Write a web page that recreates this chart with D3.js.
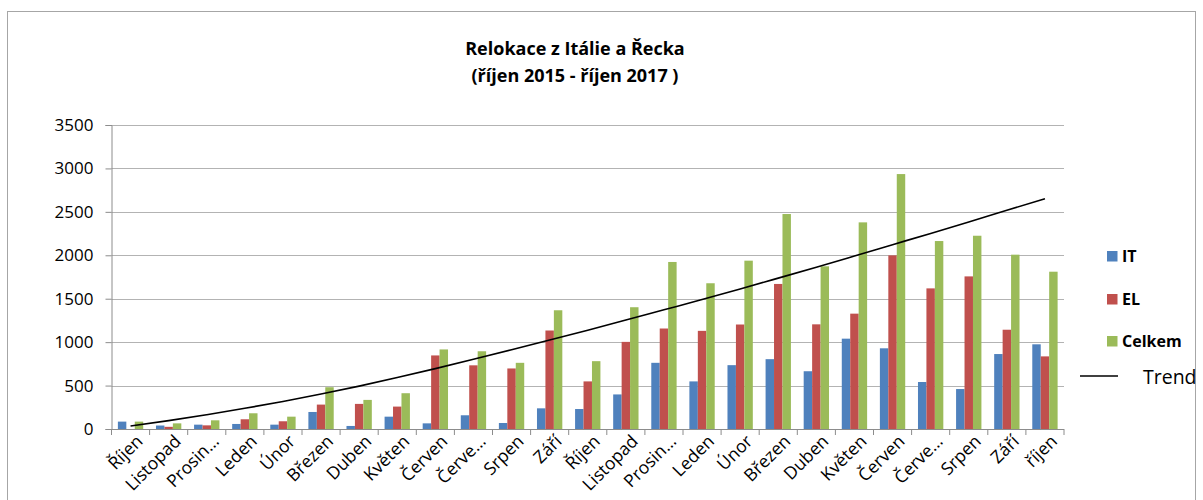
<!DOCTYPE html>
<html><head><meta charset="utf-8">
<script src="https://cdn.jsdelivr.net/npm/d3@7"></script>
<style>
html,body{margin:0;padding:0;background:#fff;}
svg{display:block;font-family:"Open Sans",sans-serif;}
</style></head>
<body>
<svg id="chart" width="1203" height="500"></svg>
<script>
const categories = ["Říjen","Listopad","Prosin…","Leden","Únor","Březen","Duben","Květen","Červen","Červe…","Srpen","Září","Říjen","Listopad","Prosin…","Leden","Únor","Březen","Duben","Květen","Červen","Červe…","Srpen","Září","říjen"];
const seriesNames = ["IT","EL","Celkem"];
const itValues = [85,40,50,58,50,196,35,142,65,158,69,238,230,398,762,548,735,804,665,1040,929,541,460,863,975];
const elValues = [0,25,42,112,89,281,289,258,847,733,697,1134,548,1003,1157,1130,1203,1670,1205,1328,1999,1619,1757,1143,836];
const celkemValues = [85,65,100,181,142,481,335,412,916,895,762,1367,781,1402,1923,1678,1938,2475,1873,2379,2935,2164,2225,2007,1811];
const trendValues = [35,96,165,238,317,402,494,592,695,802,912,1024,1138,1254,1372,1490,1612,1737,1863,1992,2122,2252,2384,2518,2652];
const yTicks = [0,500,1000,1500,2000,2500,3000,3500];
const colors = ["#4f81bd","#c0504d","#9bbb59"];

(function(){
const svg = d3.select("#chart");
const pL = 111.5, pR = 1064, pT = 125, pB = 429;

// outer border
svg.append("rect").attr("x",7.5).attr("y",11.5).attr("width",1188).attr("height",500)
  .attr("fill","none").attr("stroke","#a6a6a6").attr("stroke-width",1);

const idx = categories.map((d,i)=>i);
const x0 = d3.scaleBand().domain(idx).range([pL,pR]).paddingInner(0.335).paddingOuter(0.1675);
const x1 = d3.scaleBand().domain(seriesNames).range([0,x0.bandwidth()]);
const y = d3.scaleLinear().domain([0,3500]).range([pB,pT]);
const step = x0.step();

// gridlines
svg.append("g").selectAll("line").data(yTicks.filter(d=>d>0)).join("line")
  .attr("x1",pL).attr("x2",pR).attr("y1",d=>Math.round(y(d))+0.5).attr("y2",d=>Math.round(y(d))+0.5)
  .attr("stroke","#b3b3b3").attr("stroke-width",1.2);

// y axis
const yAxis = svg.append("g").attr("transform",`translate(${pL},0)`)
  .call(d3.axisLeft(y).tickValues(yTicks).tickSize(6).tickPadding(12).tickFormat(d3.format("d")));
yAxis.select(".domain").attr("stroke","#8c8c8c");
yAxis.selectAll(".tick line").attr("stroke","#8c8c8c");
yAxis.selectAll(".tick text").attr("font-size","17px").attr("fill","#000").attr("font-family","Open Sans");

// bars
const series = [itValues, elValues, celkemValues];
seriesNames.forEach((s,si)=>{
  svg.append("g").selectAll("rect").data(series[si]).join("rect")
    .attr("x",(d,i)=>x0(i)+x1(s))
    .attr("width",x1.bandwidth())
    .attr("y",d=>y(d))
    .attr("height",d=>pB-y(d))
    .attr("fill",colors[si]);
});

// x axis
const xAxisG = svg.append("g");
xAxisG.append("line").attr("x1",pL).attr("x2",pR).attr("y1",pB+0.5).attr("y2",pB+0.5).attr("stroke","#8c8c8c");
const xb = d3.range(categories.length+1).map(k=>pL+k*step);
xAxisG.selectAll("line.tk").data(xb).join("line").attr("class","tk")
  .attr("x1",d=>d).attr("x2",d=>d).attr("y1",pB).attr("y2",pB+6).attr("stroke","#8c8c8c");
xAxisG.selectAll("text").data(categories).join("text")
  .attr("transform",(d,i)=>`translate(${x0(i)+x0.bandwidth()/2+9},${pB+9}) rotate(-45)`)
  .attr("text-anchor","end").attr("dy","0.35em")
  .attr("font-size","17.5px").attr("fill","#000").text(d=>d);

// trend
const line = d3.line().x((d,i)=>x0(i)+x0.bandwidth()/2).y(d=>y(d)).curve(d3.curveMonotoneX);
svg.append("path").datum(trendValues).attr("d",line).attr("fill","none").attr("stroke","#000").attr("stroke-width",1.6);

// title
svg.append("text").attr("x",575).attr("y",55).attr("text-anchor","middle")
  .attr("font-size","18px").attr("font-weight","bold").text("Relokace z Itálie a Řecka");
svg.append("text").attr("x",575).attr("y",82).attr("text-anchor","middle")
  .attr("font-size","18px").attr("font-weight","bold").text("(říjen 2015 - říjen 2017 )");

// legend
const legY = [251,294,336];
seriesNames.forEach((s,i)=>{
  svg.append("rect").attr("x",1107).attr("y",legY[i]).attr("width",10.5).attr("height",10.5).attr("fill",colors[i]);
  svg.append("text").attr("x",1122).attr("y",legY[i]+11).attr("font-size","16px").attr("font-weight","bold").text(s);
});
svg.append("line").attr("x1",1080).attr("x2",1118).attr("y1",376).attr("y2",376).attr("stroke","#000").attr("stroke-width",1.3);
svg.append("text").attr("x",1143).attr("y",384).attr("font-size","19.5px").attr("font-family","Open Sans").text("Trend");
})();
</script>
</body></html>
